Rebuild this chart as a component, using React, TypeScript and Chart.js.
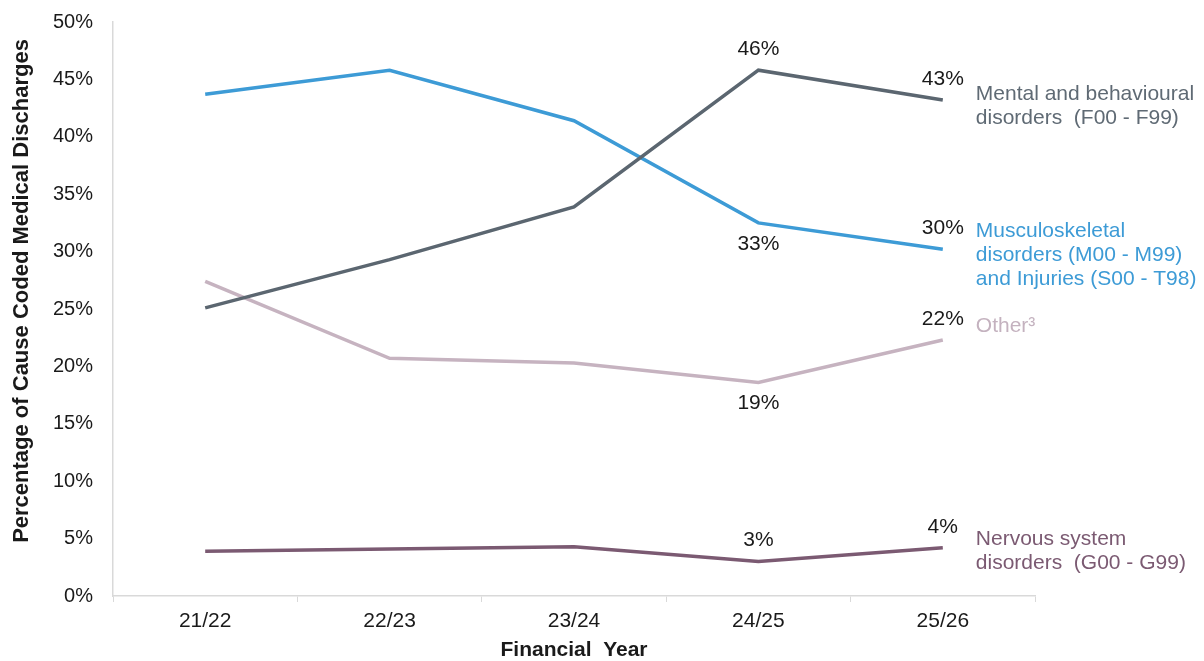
import React, { useEffect, useRef } from "react";
import { Chart, registerables } from "chart.js";

Chart.register(...registerables);

const categories = ["21/22", "22/23", "23/24", "24/25", "25/26"];
const mentalValues = [25.1, 29.3, 33.9, 45.8, 43.2];
const musculoValues = [43.7, 45.8, 41.4, 32.5, 30.2];
const otherValues = [27.4, 20.7, 20.3, 18.6, 22.3];
const nervousValues = [3.9, 4.1, 4.3, 3.0, 4.2];

const seriesNames = ["Mental", "Musculoskeletal", "Other", "Nervous"];
const seriesColors = ["#5b6670", "#3d9bd6", "#c6b3c0", "#7b5a72"];
const annotationColors = ["#5f6a74", "#3d9bd6", "#c4b2bf", "#7b5a72"];
const annotationLines = [
  ["Mental and behavioural", "disorders  (F00 - F99)"],
  ["Musculoskeletal", "disorders (M00 - M99)", "and Injuries (S00 - T98)"],
  ["Other\u00B3"],
  ["Nervous system", "disorders  (G00 - G99)"],
];
const annotationOffsetY = [-6, -18, -14, -9];

// data labels: dataset index, point index, text, above or below
const dataLabelSeries = [0, 0, 1, 1, 2, 2, 3, 3];
const dataLabelPoints = [3, 4, 3, 4, 3, 4, 3, 4];
const dataLabelTexts = ["46%", "43%", "33%", "30%", "19%", "22%", "3%", "4%"];
const dataLabelAbove = [true, true, false, true, false, true, true, true];

const yTitle = "Percentage of Cause Coded Medical Discharges";
const xTitle = "Financial  Year";
const FONT = "'Liberation Sans', Arial, sans-serif";

export default function App() {
  const ref = useRef<HTMLCanvasElement | null>(null);

  useEffect(() => {
    if (!ref.current) return;
    const overlay = {
      id: "overlay",
      afterDraw(chart: any) {
        const ctx = chart.ctx;
        const area = chart.chartArea;
        ctx.save();
        ctx.font = `21px ${FONT}`;
        ctx.fillStyle = "#1a1a1a";
        ctx.textAlign = "center";
        ctx.textBaseline = "middle";
        for (let i = 0; i < dataLabelTexts.length; i++) {
          const meta = chart.getDatasetMeta(dataLabelSeries[i]);
          const pt = meta.data[dataLabelPoints[i]];
          const dy = dataLabelAbove[i] ? -21 : 21;
          ctx.fillText(dataLabelTexts[i], pt.x, pt.y + dy);
        }
        ctx.font = `21px ${FONT}`;
        ctx.textAlign = "left";
        for (let s = 0; s < annotationLines.length; s++) {
          const meta = chart.getDatasetMeta(s);
          const pt = meta.data[meta.data.length - 1];
          ctx.fillStyle = annotationColors[s];
          annotationLines[s].forEach((line, k) => {
            ctx.fillText(line, pt.x + 33, pt.y + annotationOffsetY[s] + k * 24);
          });
        }
        ctx.fillStyle = "#1a1a1a";
        ctx.font = `bold 21px ${FONT}`;
        ctx.textAlign = "center";
        ctx.fillText(xTitle, (area.left + area.right) / 2, 642);
        ctx.font = `bold 22px ${FONT}`;
        ctx.translate(14, 283);
        ctx.rotate(-Math.PI / 2);
        ctx.fillText(yTitle, 0, 0);
        ctx.restore();
      },
    };

    const valueSets = [mentalValues, musculoValues, otherValues, nervousValues];
    const chart = new Chart(ref.current, {
      type: "line",
      data: {
        labels: categories,
        datasets: valueSets.map((vals, i) => ({
          label: seriesNames[i],
          data: vals,
          borderColor: seriesColors[i],
          backgroundColor: seriesColors[i],
          borderWidth: 3.5,
          pointRadius: 0,
          tension: 0,
        })),
      },
      options: {
        responsive: false,
        animation: false,
        layout: { padding: { top: 14, right: 161, left: 0, bottom: 0 } },
        plugins: {
          legend: { display: false },
          tooltip: { enabled: false },
        },
        scales: {
          x: {
            offset: true,
            grid: {
              offset: true,
              drawOnChartArea: false,
              drawTicks: true,
              tickLength: 6,
              color: "#d9d9d9",
            },
            border: { display: true, color: "#d9d9d9", width: 1.5 },
            ticks: {
              color: "#1a1a1a",
              font: { size: 21, family: FONT },
              padding: 7,
            },
            afterFit: (scale: any) => {
              scale.height = 65;
            },
          },
          y: {
            min: 0,
            max: 50,
            grid: { drawOnChartArea: false, drawTicks: false },
            border: { display: true, color: "#d9d9d9", width: 1.5 },
            ticks: {
              stepSize: 5,
              color: "#1a1a1a",
              font: { size: 20, family: FONT },
              padding: 20,
              callback: (v: any) => `${v}%`,
            },
            afterFit: (scale: any) => {
              scale.width = 105;
              scale.paddingTop = 0;
              scale.paddingBottom = 0;
            },
          },
        },
      },
      plugins: [overlay],
    });
    return () => chart.destroy();
  }, []);

  return (
    <div style={{ width: 1188, height: 653 }}>
      <canvas ref={ref} width={1188} height={653} style={{ display: "block" }} />
    </div>
  );
}
